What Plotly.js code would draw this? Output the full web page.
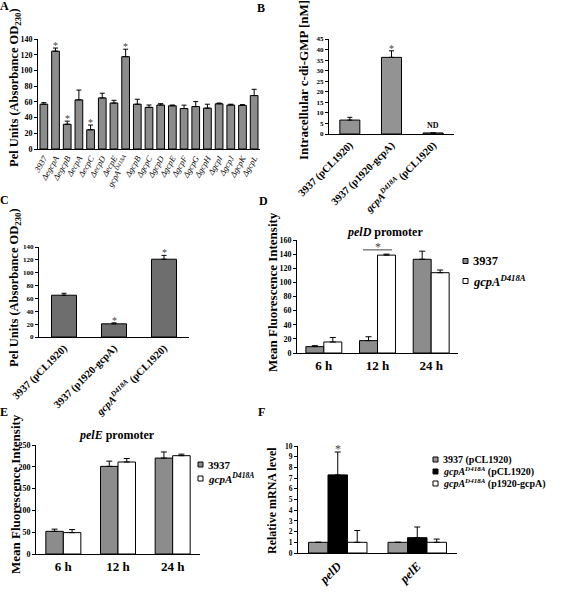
<!DOCTYPE html>
<html><head><meta charset="utf-8">
<script src="https://cdn.plot.ly/plotly-3.0.1.min.js"></script>
<style>html,body{margin:0;padding:0;background:#fff}</style>
</head><body>
<div id="chart" style="width:565px;height:593px"></div>
<script>
// ---------- DATA ----------
// Panel A
const strainsA = ['3937','ΔegcpA','ΔegcpB','ΔecpA','ΔecpC','ΔecpD','ΔecpE','gcpA<sup>D418A</sup>','ΔgcpB','ΔgcpC','ΔgcpD','ΔgcpE','ΔgcpF','ΔgcpG','ΔgcpH','ΔgcpI','ΔgcpJ','ΔgcpK','ΔgcpL'];
const pelA    = [57,124.5,31.5,62.5,24.5,65,58.5,117.5,57,53,56,55,51.5,54,52,57.5,56,55.5,68];
const pelAErr = [2,4,4,12.5,6,6,3.5,9.5,6.3,3,1.7,1,4.3,6.3,5,1,1,1,8];
const sigA    = [0,1,1,0,1,0,0,1,0,0,0,0,0,0,0,0,0,0,0];
// Panel B
const strainsB = ['<b>3937 (pCL1920)</b>','<b>3937 (p1920-gcpA)</b>','<b><i>gcpA<sup>D418A</sup></i> (pCL1920)</b>'];
const cdgB    = [6.6,36.3,0.5];
const cdgBErr = [1.3,3.1,0];
const sigB    = [0,1,0];
const ndB     = [0,0,1];
// Panel C
const strainsC = ['<b>3937 (pCL1920)</b>','<b>3937 (p1920-gcpA)</b>','<b><i>gcpA<sup>D418A</sup></i> (pCL1920)</b>'];
const pelC    = [65,20.5,121];
const pelCErr = [3,1.5,6];
const sigC    = [0,1,1];
// Panels D & E
const hours = ['6 h','12 h','24 h'];
const seriesDE = ['3937','<i>gcpA<sup>D418A</sup></i>'];
const pelD_wt     = [9,17.5,132.7];
const pelD_wtErr  = [1.4,5.5,11.5];
const pelD_mut    = [15.6,138.6,113.7];
const pelD_mutErr = [6.4,1.4,3.8];
const pelE_wt     = [52,201,220];
const pelE_wtErr  = [5,12,14];
const pelE_mut    = [49,211,225.5];
const pelE_mutErr = [7,8,3.5];
// Panel F
const genesF = ['<i>pelD</i>','<i>pelE</i>'];
const seriesF = ['3937 (pCL1920)','<i>gcpA<sup>D418A</sup></i> (pCL1920)','<i>gcpA<sup>D418A</sup></i> (p1920-gcpA)'];
const mrna_wt      = [1,1];
const mrna_wtErr   = [0,0];
const mrna_mut     = [7.3,1.43];
const mrna_mutErr  = [2.14,1.0];
const mrna_comp    = [1.0,1.0];
const mrna_compErr = [1.1,0.3];

// ---------- HELPERS ----------
const P = x => x/565, Q = y => 1 - y/593;
const FONT = 'Liberation Serif, Times New Roman, serif';
const f = (size, o={}) => Object.assign({family: FONT, size: size, color: '#000', weight: 'bold'}, o);
const GREY = '#8c8c8c';
const errs = (arr, w) => ({type:'data', array: arr, arrayminus: arr.map(() => 0), symmetric: false, color: '#000', thickness: 1, width: w});
const line = {color: '#000', width: 1};

function yax(top, bot, range, dtick, size, anchor){
  return {domain:[Q(bot), Q(top)], range: range, dtick: dtick, tick0: 0, anchor: anchor,
    showline: true, linecolor: '#000', linewidth: 1, ticks: 'outside', ticklen: 3, tickcolor: '#000',
    showgrid: false, zeroline: false, tickfont: f(size), fixedrange: true};
}
function xax(l, r, n, angle, font, anchor){
  return {domain:[P(l), P(r)], range: [-0.5, n - 0.5], type: 'category', anchor: anchor,
    showline: true, linecolor: '#000', linewidth: 1, ticks: '', tickangle: angle,
    showgrid: false, zeroline: false, tickfont: font, fixedrange: true};
}

// ---------- TRACES ----------
const traces = [];
traces.push({type:'bar', x: strainsA, y: pelA, width: 0.66, xaxis:'x', yaxis:'y',
  marker:{color: GREY, line: line}, error_y: errs(pelAErr, 2.5)});
traces.push({type:'bar', x: strainsB, y: cdgB, width: 0.48, xaxis:'x2', yaxis:'y2',
  marker:{color: '#939393', line: line}, error_y: errs(cdgBErr, 2.5)});
traces.push({type:'bar', x: strainsC, y: pelC, width: 0.5, xaxis:'x3', yaxis:'y3',
  marker:{color: '#6e6e6e', line: line}, error_y: errs(pelCErr, 2.5)});

const wD = 0.335;
traces.push({type:'bar', name: seriesDE[0], x: hours, y: pelD_wt, width: wD, offset: -wD, xaxis:'x4', yaxis:'y4',
  marker:{color: GREY, line: line}, error_y: errs(pelD_wtErr, 3)});
traces.push({type:'bar', name: seriesDE[1], x: hours, y: pelD_mut, width: wD, offset: 0, xaxis:'x4', yaxis:'y4',
  marker:{color: '#fff', line: line}, error_y: errs(pelD_mutErr, 3)});
const wE = 0.32;
traces.push({type:'bar', name: seriesDE[0], x: hours, y: pelE_wt, width: wE, offset: -wE, xaxis:'x5', yaxis:'y5',
  marker:{color: GREY, line: line}, error_y: errs(pelE_wtErr, 3)});
traces.push({type:'bar', name: seriesDE[1], x: hours, y: pelE_mut, width: wE, offset: 0, xaxis:'x5', yaxis:'y5',
  marker:{color: '#fff', line: line}, error_y: errs(pelE_mutErr, 3)});
const wF = 0.245;
const colF = ['#999', '#000', '#fff'];
traces.push({type:'bar', name: seriesF[0], x: genesF, y: mrna_wt, width: wF, offset: -1.5*wF, xaxis:'x6', yaxis:'y6',
  marker:{color: colF[0], line: line}, error_y: errs(mrna_wtErr, 3)});
traces.push({type:'bar', name: seriesF[1], x: genesF, y: mrna_mut, width: wF, offset: -0.5*wF, xaxis:'x6', yaxis:'y6',
  marker:{color: colF[1], line: line}, error_y: errs(mrna_mutErr, 3)});
traces.push({type:'bar', name: seriesF[2], x: genesF, y: mrna_comp, width: wF, offset: 0.5*wF, xaxis:'x6', yaxis:'y6',
  marker:{color: colF[2], line: line}, error_y: errs(mrna_compErr, 3)});

// ---------- ANNOTATIONS ----------
const ann = [];
const shapes = [];
const add = o => ann.push(Object.assign({showarrow:false, xref:'paper', yref:'paper'}, o));
// panel letters
[['A',4,6],['B',261,8],['C',4,200],['D',263,201],['E',4,412],['F',261,412]].forEach(l =>
  add({text:l[0], x:P(l[1]), y:Q(l[2]), xanchor:'center', yanchor:'middle', font:f(12)}));
// axis titles
const yt = (t, x, y, s) => add({text:t, x:P(x), y:Q(y), textangle:-90, xanchor:'center', yanchor:'middle', font:f(s)});
yt('Pel Units (Absorbance OD<sub>230</sub>)', 15, 88, 12.5);
yt('Intracellular c-di-GMP [nM]', 304, 80, 13);
yt('Pel Units (Absorbance OD<sub>230</sub>)', 15, 288, 12.5);
yt('Mean Fluorescence Intensity', 272, 292, 13);
yt('Mean Fluorescence Intensity', 15, 494, 13);
yt('Relative mRNA level', 272, 501, 12);
// chart titles
add({text:'<i>pelD</i> promoter', x:P(385), y:Q(232), xanchor:'center', yanchor:'middle', font:f(12)});
add({text:'<i>pelE</i> promoter', x:P(117), y:Q(435), xanchor:'center', yanchor:'middle', font:f(12)});
// significance marks
const star = (xr, yr, x, y, s, ys) => ann.push({showarrow:false, xref:xr, yref:yr, x:x, y:y, text:'*',
  xanchor:'center', yanchor:'bottom', yshift:ys, font:f(s, {color:'#444', weight:'normal'})});
sigA.forEach((s, i) => { if (s) star('x', 'y', i, pelA[i] + pelAErr[i], 10, -5); });
sigB.forEach((s, i) => { if (s) star('x2', 'y2', i, cdgB[i] + cdgBErr[i], 10, -5); });
ndB.forEach((s, i) => { if (s) ann.push({showarrow:false, xref:'x2', yref:'y2', x:i, y:cdgB[i], text:'ND',
  xanchor:'center', yanchor:'bottom', yshift:1, font:f(8)}); });
sigC.forEach((s, i) => { if (s) star('x3', 'y3', i, pelC[i] + pelCErr[i], 10, -5); });
star('x6', 'y6', 0, mrna_mut[0] + mrna_mutErr[0], 12, -6);
// D bracket over 12 h
const brY = Math.max(pelD_wt[1] + pelD_wtErr[1], pelD_mut[1] + pelD_mutErr[1]) + 6;
star('x4', 'y4', 1, brY, 12, -6);
shapes.push({type:'line', xref:'x4', yref:'y4', x0: 1 - 0.27, x1: 1 + 0.27, y0: brY, y1: brY, line:{color:'#444', width:1}});

// compact legends (small squares + labels), as in the original figure
function legend(names, colors, sqX, ys, size){
  names.forEach((n, i) => {
    shapes.push({type:'rect', xref:'paper', yref:'paper', x0:P(sqX), x1:P(sqX + 5), y0:Q(ys[i] + 2.5), y1:Q(ys[i] - 2.5),
      fillcolor:colors[i], line:{color:'#000', width:1}});
    add({text:n, x:P(sqX + 8), y:Q(ys[i]), xanchor:'left', yanchor:'middle', font:f(size)});
  });
}
legend(seriesDE, [GREY, '#fff'], 463, [261, 281], 12.5);
legend(seriesDE, [GREY, '#fff'], 198, [464.5, 478.5], 11);
legend(seriesF, colF, 433, [459.5, 471.5, 483.5], 10);

// ---------- LAYOUT ----------
const layout = {
  width: 565, height: 593, margin:{l:0, r:0, t:0, b:0},
  paper_bgcolor:'#fff', plot_bgcolor:'#fff', barmode:'overlay', hovermode:false,
  font: f(10), showlegend: false,
  xaxis:  xax(38, 260, strainsA.length, -60, f(8.5, {weight:'normal', style:'italic'}), 'y'),
  yaxis:  yax(39, 149, [0,140], 20, 8, 'x'),
  xaxis2: xax(329, 454, strainsB.length, -45, f(10.5), 'y2'),
  yaxis2: yax(39, 134, [0,45], 5, 7, 'x2'),
  xaxis3: xax(39, 189, strainsC.length, -45, f(10.5), 'y3'),
  yaxis3: yax(247, 337, [0,140], 20, 7, 'x3'),
  xaxis4: xax(297, 458, hours.length, 0, f(13), 'y4'),
  yaxis4: yax(240, 353, [0,160], 20, 8, 'x4'),
  xaxis5: xax(36, 200, hours.length, 0, f(13), 'y5'),
  yaxis5: yax(445, 554, [0,250], 50, 8, 'x5'),
  xaxis6: xax(298, 457, genesF.length, -45, f(12.5), 'y6'),
  yaxis6: yax(446, 553, [0,10], 1, 7.5, 'x6'),
  annotations: ann,
  shapes: shapes
};
Plotly.newPlot('chart', traces, layout, {staticPlot:true, displayModeBar:false});
</script>
</body></html>
